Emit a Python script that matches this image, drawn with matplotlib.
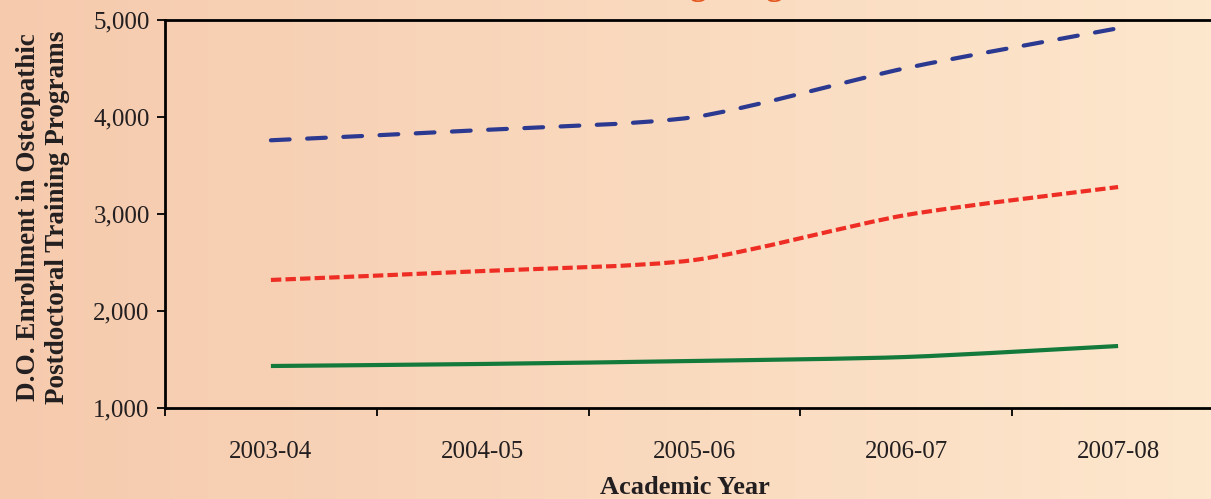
import numpy as np
import matplotlib
matplotlib.use('Agg')
import matplotlib.pyplot as plt
from matplotlib.path import Path
from matplotlib.patches import PathPatch
from matplotlib.colors import LinearSegmentedColormap

# data
years = ['2003-04', '2004-05', '2005-06', '2006-07', '2007-08']
top_series = [3760, 3866, 4000, 4505, 4915]     # blue dashed
mid_series = [2320, 2412, 2526, 2990, 3278]     # red short dash
low_series = [1433, 1454, 1485, 1526, 1639]     # green solid

yticks = [1000, 2000, 3000, 4000, 5000]

plt.rcParams['font.family'] = ['Liberation Serif', 'DejaVu Serif']


def smooth_path(xs, ys, k=8.0):
    # smoothed line drawn as cubic bezier segments
    pts = np.column_stack([xs, ys]).astype(float)
    n = len(pts)
    verts = [pts[0]]
    codes = [Path.MOVETO]
    for i in range(n - 1):
        p0 = pts[i - 1] if i > 0 else pts[i]
        p1 = pts[i]
        p2 = pts[i + 1]
        p3 = pts[i + 2] if i + 2 < n else pts[i + 1]
        c1 = p1 + (p2 - p0) / k
        c2 = p2 - (p3 - p1) / k
        verts += [c1, c2, p2]
        codes += [Path.CURVE4] * 3
    return Path(verts, codes)


fig = plt.figure(figsize=(12.11, 4.99), dpi=100)

# background gradient
bg = fig.add_axes([0, 0, 1, 1], zorder=-10)
cmap = LinearSegmentedColormap.from_list('bg', ['#F6CAAD', '#FDE7CD'])
bg.imshow(np.linspace(0, 1, 256).reshape(1, -1), aspect='auto', cmap=cmap, extent=[0, 1, 0, 1])
bg.axis('off')

W, H = 1211, 499
left, right, top, bottom = 165, 1224, 20, 408
ax = fig.add_axes([left / W, 1 - bottom / H, (right - left) / W, (bottom - top) / H])
ax.patch.set_alpha(0)

x = np.arange(len(years))
styles = [
    (top_series, '#2B3990', (0, (4.5, 4.2)), 'round'),
    (mid_series, '#EE2E24', (0, (2.5, 1.0)), 'butt'),
    (low_series, '#137A3C', 'solid', 'butt'),
]
for vals, col, ls, cap in styles:
    patch = PathPatch(smooth_path(x, vals), fill=False, edgecolor=col,
                      linewidth=3.0, linestyle=ls, capstyle=cap, joinstyle='round')
    ax.add_patch(patch)

ax.set_xlim(-0.5, len(years) - 0.5)
ax.set_ylim(1000, 5000)

ax.set_yticks(yticks)
ax.set_yticklabels([f'{v:,}' for v in yticks], fontsize=18, color='#231F20')
ax.set_xticks(np.arange(len(years) + 1) - 0.5)
ax.set_xticklabels([])
ax.set_xticks(x, minor=True)
ax.set_xticklabels(years, minor=True, fontsize=18, color='#231F20')
ax.tick_params(axis='x', which='minor', length=0, pad=24)
ax.tick_params(axis='x', which='major', length=6, width=1.3, direction='out')
ax.tick_params(axis='y', length=6, width=1.3, direction='out', pad=5)

for s in ['left', 'bottom', 'top']:
    ax.spines[s].set_linewidth(2)
    ax.spines[s].set_color('black')
ax.spines['right'].set_visible(False)

fig.text(685 / W, 1 - 487 / H, 'Academic Year', ha='center', va='center',
         fontsize=19, fontweight='bold', color='#231F20')
fig.text(43 / W, 1 - 217 / H, 'D.O. Enrollment in Osteopathic\nPostdoctoral Training Programs',
         ha='center', va='center', rotation=90, fontsize=19.5, fontweight='bold',
         color='#231F20', linespacing=1.2)

# title, cut off by the top edge
fig.text(855 / W, 1 + 5 / H, 'Postdoctoral Training Programs', ha='right', va='baseline',
         fontsize=24, fontweight='bold', color='#E4571F')

fig.savefig('out.png', dpi=100)
